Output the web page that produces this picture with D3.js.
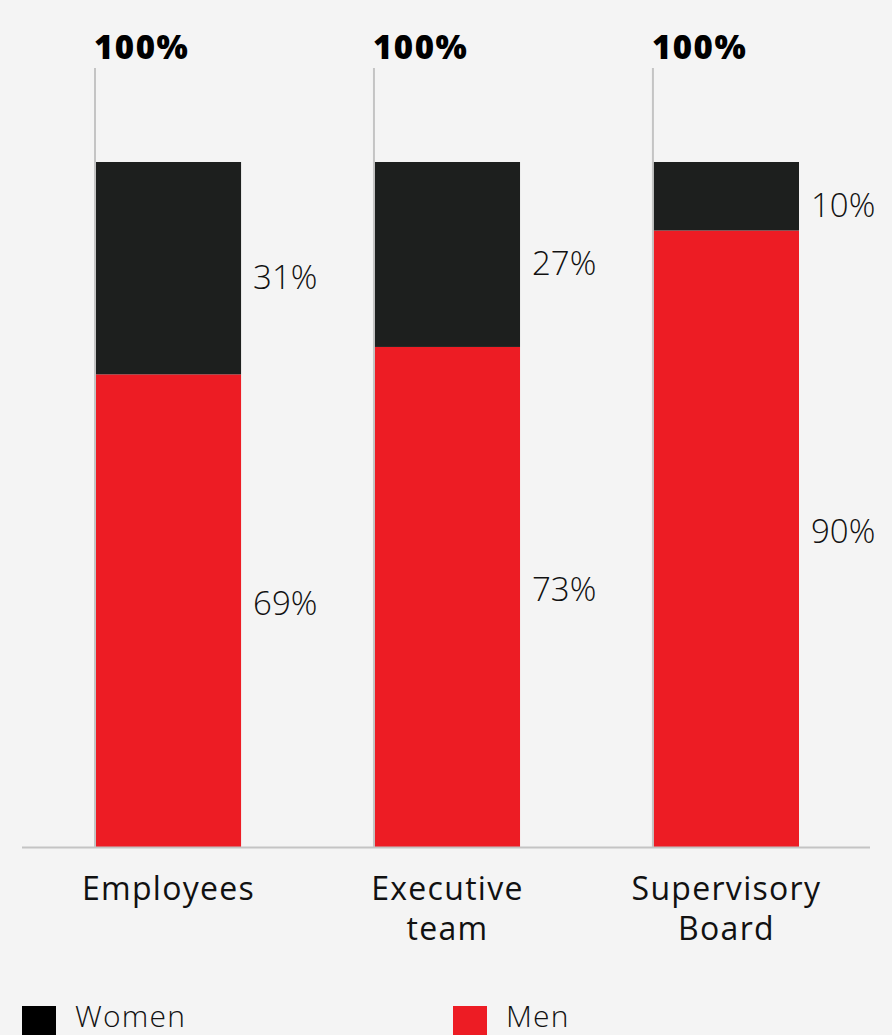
<!DOCTYPE html>
<html><head><meta charset="utf-8">
<script src="https://cdn.jsdelivr.net/npm/d3@7"></script>
<style>
html,body{margin:0;padding:0;background:#f4f4f4;}
svg{display:block;}
</style></head>
<body>
<svg id="chart" width="892" height="1035"></svg>
<script>
const categories = [["Employees"], ["Executive", "team"], ["Supervisory", "Board"]];
const women = [31, 27, 10];
const men = [69, 73, 90];
const totalLabel = "100%";
const legendLabels = ["Women", "Men"];

const svg = d3.select("#chart");
const W = 892, H = 1035;
svg.append("rect").attr("width", W).attr("height", H).attr("fill", "#f4f4f4");

const x = d3.scaleBand().domain(d3.range(categories.length)).range([96, 799]).paddingInner(0.48).paddingOuter(0);
const y = d3.scaleLinear().domain([0, 100]).range([847, 162]);

const font = "'Open Sans', sans-serif";

// vertical guide lines
svg.selectAll(".guide").data(categories).join("line")
  .attr("x1", (d, i) => x(i) - 1).attr("x2", (d, i) => x(i) - 1)
  .attr("y1", 68).attr("y2", y(0))
  .attr("stroke", "#c4c4c4").attr("stroke-width", 2);

// bars
const g = svg.append("g");
g.selectAll(".men").data(men).join("rect")
  .attr("x", (d, i) => x(i)).attr("width", x.bandwidth())
  .attr("y", d => y(d)).attr("height", d => y(0) - y(d))
  .attr("fill", "#ed1c24");
g.selectAll(".women").data(women).join("rect")
  .attr("x", (d, i) => x(i)).attr("width", x.bandwidth())
  .attr("y", (d, i) => y(men[i] + d)).attr("height", (d, i) => y(men[i]) - y(men[i] + d))
  .attr("fill", "#1d1f1e");

// baseline
svg.append("line").attr("x1", 22).attr("x2", 870).attr("y1", y(0) + 0.5).attr("y2", y(0) + 0.5)
  .attr("stroke", "#c4c4c4").attr("stroke-width", 2);

// 100% labels
svg.selectAll(".tot").data(categories).join("text")
  .attr("x", (d, i) => x(i) - 2).attr("y", 59)
  .attr("font-family", font).attr("font-weight", 800).attr("font-size", 33)
  .attr("letter-spacing", 1.5)
  .attr("fill", "#000").text(totalLabel);

// value labels
const lx = i => x(i) + x.bandwidth() + 12;
svg.selectAll(".wl").data(women).join("text")
  .attr("x", (d, i) => lx(i))
  .attr("y", (d, i) => (y(men[i] + d) + y(men[i])) / 2 + 21)
  .attr("font-family", font).attr("font-size", 33).attr("font-weight", 300).attr("fill", "#111")
  .text(d => d + "%");
svg.selectAll(".ml").data(men).join("text")
  .attr("x", (d, i) => lx(i))
  .attr("y", (d, i) => (y(d) + y(0)) / 2 + 4)
  .attr("font-family", font).attr("font-size", 33).attr("font-weight", 300).attr("fill", "#111")
  .text(d => d + "%");

// category labels
categories.forEach((lines, i) => {
  lines.forEach((ln, j) => {
    svg.append("text").attr("x", x(i) + x.bandwidth() / 2).attr("y", 900 + j * 40)
      .attr("text-anchor", "middle")
      .attr("font-family", font).attr("font-size", 32).attr("font-weight", 400)
      .attr("letter-spacing", 1.3).attr("fill", "#111")
      .text(ln);
  });
});

// legend
const legColors = ["#000000", "#ed1c24"];
const legX = [22, 453];
legendLabels.forEach((lab, i) => {
  svg.append("rect").attr("x", legX[i]).attr("y", 1006).attr("width", 34).attr("height", 40).attr("fill", legColors[i]);
  svg.append("text").attr("x", legX[i] + 53).attr("y", 1027)
    .attr("font-family", font).attr("font-size", 30).attr("font-weight", 300)
    .attr("letter-spacing", 1.2)
    .attr("fill", "#111").text(lab);
});
</script>
</body></html>
